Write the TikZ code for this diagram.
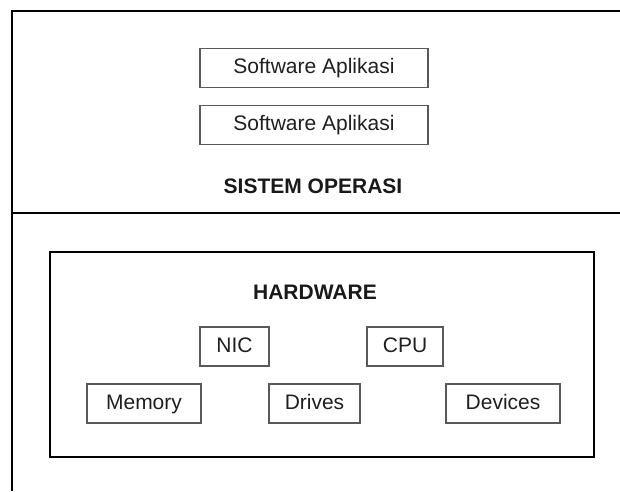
\documentclass[tikz,border=0pt]{standalone}
\usepackage{fontspec}
\setmainfont{Liberation Sans}
\begin{document}
\begin{tikzpicture}[x=1pt,y=-1pt,
  frame/.style={draw=black,line width=1.3pt},
  hwbox/.style={draw=black,line width=1.8pt,rectangle,inner sep=0pt},
  item/.style={draw=black!65,line width=1.1pt,rectangle,inner sep=0pt,
    minimum height=39pt,text height=15pt,text depth=4pt,
    font=\fontsize{21}{25}\selectfont,text=black!88},
  title/.style={inner sep=0pt,text height=15pt,text depth=0pt,
    font=\fontsize{21}{25}\selectfont\bfseries,text=black!90}]
  \useasboundingbox (0,0) rectangle (620,491);
  % outer frame and the layer divider
  \coordinate (tl) at (12,11);
  \coordinate (tr) at (620,11);
  \coordinate (bl) at (12,491);
  \coordinate (ml) at (12,213);
  \coordinate (mr) at (620,213);
  \draw[frame] (tr) -- (tl) -- (bl);
  \draw[frame] (ml) -- (mr);
  % operating system layer
  \node[item,minimum width=228pt] (app1) at (314,68) {Software Aplikasi};
  \node[item,minimum width=228pt] (app2) at (314,125) {Software Aplikasi};
  \node[title] (os) at (313,185.5) {SISTEM OPERASI};
  % hardware layer
  \node[hwbox,minimum width=544pt,minimum height=205pt] (hw) at (322,354.5) {};
  \node[title] (hwlabel) at (315,292) {HARDWARE};
  \node[item,minimum width=69pt] (nic) at (234.5,346.5) {NIC};
  \node[item,minimum width=76pt] (cpu) at (405,346.5) {CPU};
  \node[item,minimum width=114pt] (mem) at (144,403.5) {Memory};
  \node[item,minimum width=91pt] (drv) at (314.5,403.5) {Drives};
  \node[item,minimum width=114pt] (dev) at (503,403.5) {Devices};
\end{tikzpicture}
\end{document}
